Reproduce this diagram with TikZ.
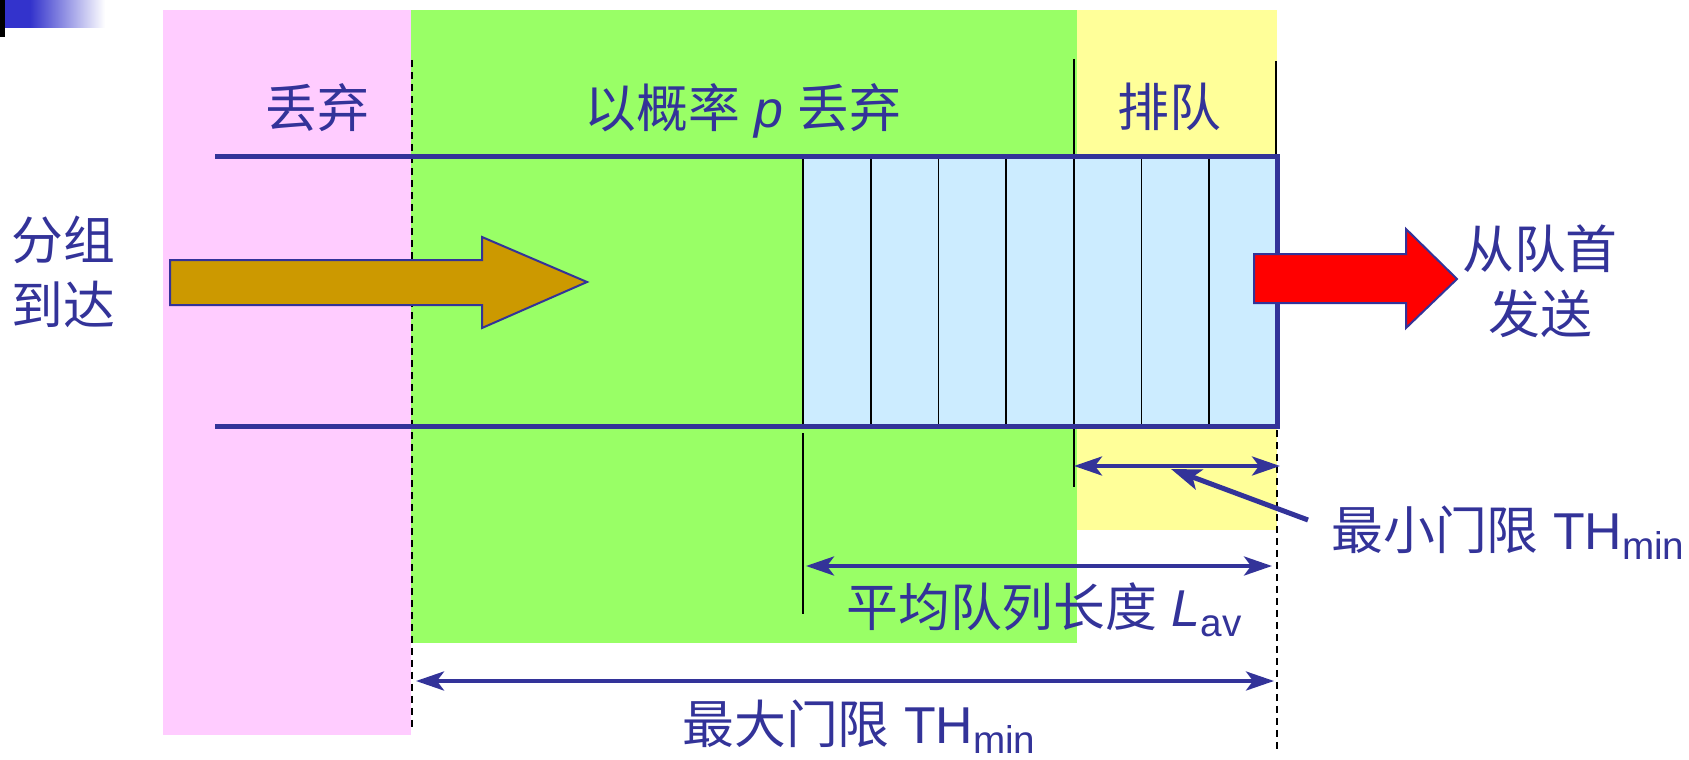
\documentclass[tikz,border=0pt]{standalone}
\usepackage{fontspec}
\setmainfont{Liberation Sans}
\newfontfamily\cjk{Noto Sans CJK SC}
\usetikzlibrary{arrows.meta}
\definecolor{droppink}{HTML}{FFCCFF}
\definecolor{probgreen}{HTML}{99FF66}
\definecolor{queueyellow}{HTML}{FFFF99}
\definecolor{cellblue}{HTML}{CCECFF}
\definecolor{inkblue}{HTML}{333399}
\definecolor{packetbrown}{HTML}{CC9900}
\definecolor{slideblue}{HTML}{3333CC}
\newcommand{\zh}[1]{{\cjk #1}}
\newcommand{\lowsub}[1]{\raisebox{-6pt}{\fontsize{22}{22}\selectfont #1}}
\tikzset{
    lbl/.style={text=inkblue, inner sep=0pt, font=\fontsize{29.5}{37}\selectfont},
    pipe/.style={draw=inkblue, line width=0.1cm, line join=miter},
    dimarrow/.style={inkblue, line width=0.08cm, {Stealth[length=0.56cm, width=0.38cm, inset=0.14cm]}-{Stealth[length=0.56cm, width=0.38cm, inset=0.14cm]}},
    pointer/.style={inkblue, line width=0.1cm, -{Stealth[length=0.6cm, width=0.42cm, inset=0.14cm]}},
    guide/.style={black, line width=0.035cm, dash pattern=on 0.14cm off 0.1cm},
    cellline/.style={black, line width=0.035cm},
    fatarrow/.style={draw=inkblue, line width=0.04cm, line join=miter}
}
\begin{document}
\begin{tikzpicture}[x=0.02cm,y=-0.02cm]
    \useasboundingbox (0,0) rectangle (1689,760);
    \fill[black] (0,0) rectangle (5,37);
    \fill[slideblue] (5,0) rectangle (30,28);
    \shade[left color=slideblue, right color=white] (30,0) rectangle (105,28);
    \fill[droppink] (163,10) rectangle (411,735);
    \fill[probgreen] (411,10) rectangle (1077,643);
    \fill[queueyellow] (1077,10) rectangle (1277,530);
    \fill[cellblue] (803,157) rectangle (1277,426);
    \draw[guide] (412,60) -- (412,730);
    \draw[guide] (1277,430) -- (1277,750);
    \foreach \k in {0,...,6} {
        \draw[cellline] ({803+67.7*\k},157) -- ({803+67.7*\k},426);
    }
    \draw[cellline] (1074,59) -- (1074,487);
    \draw[cellline] (1276,61) -- (1276,157);
    \draw[cellline] (803,433) -- (803,614);
    \draw[pipe] (215,157) -- (1277,157) -- (1277,426) -- (215,426);
    \filldraw[fill=packetbrown, fatarrow] (170,260) -- (482,260) -- (482,237) -- (587,282)
        -- (482,328) -- (482,305) -- (170,305) -- cycle;
    \filldraw[fill=red, fatarrow] (1254,254) -- (1406,254) -- (1406,229) -- (1457,279)
        -- (1406,328) -- (1406,303) -- (1254,303) -- cycle;
    \node[lbl] (lbldrop) at (317,108) {\zh{丢弃}};
    \node[lbl] (lblprob) at (743,111) {\zh{以概率} \textit{p} \zh{丢弃}};
    \node[lbl] (lblqueue) at (1169,107) {\zh{排队}};
    \node[lbl, align=center] (lblarrive) at (63,272) {\zh{分组}\\\zh{到达}};
    \node[lbl, align=center] (lblsend) at (1540,281) {\zh{从队首}\\\zh{发送}};
    \node[lbl, anchor=base west] (lblthmin) at (1331,549) {\zh{最小门限} TH\lowsub{min}};
    \node[lbl, anchor=base west] (lbllav) at (846,626) {\zh{平均队列长度} \textit{L}\lowsub{av}};
    \node[lbl, anchor=base west] (lblthmax) at (682,743) {\zh{最大门限} TH\lowsub{min}};
    \coordinate (thminL) at (1074,466);
    \coordinate (thminR) at (1280,466);
    \coordinate (ptrfoot) at (1308,520);
    \coordinate (ptrtip) at (1171,469);
    \coordinate (lavL) at (806,566);
    \coordinate (lavR) at (1272,566);
    \coordinate (thmaxL) at (416,681);
    \coordinate (thmaxR) at (1274,681);
    \draw[dimarrow] (thminL) -- (thminR);
    \draw[pointer] (ptrfoot) -- (ptrtip);
    \draw[dimarrow] (lavL) -- (lavR);
    \draw[dimarrow] (thmaxL) -- (thmaxR);
\end{tikzpicture}
\end{document}
